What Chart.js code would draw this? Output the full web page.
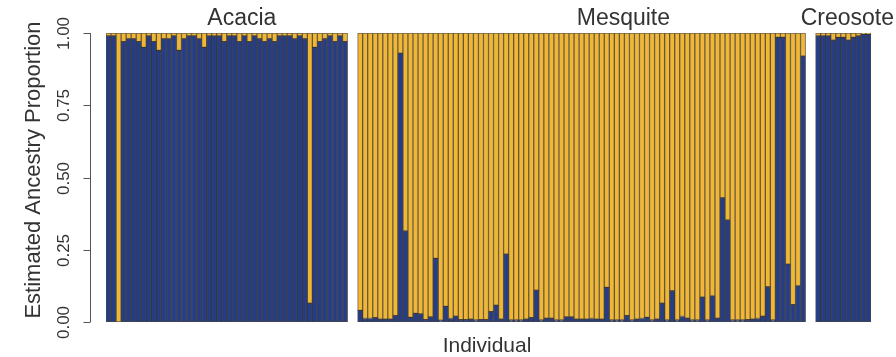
<!DOCTYPE html>
<html>
<head>
<meta charset="utf-8">
<script src="https://cdn.jsdelivr.net/npm/chart.js@4/dist/chart.umd.min.js"></script>
<style>
  html, body { margin: 0; padding: 0; background: #fff; }
  #wrap { width: 896px; height: 357px; }
</style>
</head>
<body>
<div id="wrap"><canvas id="chartAncestry" width="896" height="357"></canvas></div>
<script>
// estimated ancestry (blue cluster) per individual
var acacia = [
  0.99, 0.99, 0.00, 0.97, 0.98, 0.98, 0.97, 0.95, 0.99, 0.97,
  0.94, 0.98, 0.98, 0.99, 0.94, 0.98, 0.99, 0.99, 0.98, 0.95,
  0.99, 0.99, 0.99, 0.97, 0.99, 0.99, 0.97, 0.99, 0.97, 0.99,
  0.98, 0.97, 0.98, 0.97, 0.99, 0.99, 0.99, 0.98, 0.99, 0.98,
  0.065, 0.95, 0.97, 0.98, 0.99, 0.97, 0.99, 0.97
];
var mesquite = [
  0.04, 0.012, 0.012, 0.015, 0.01, 0.01, 0.01, 0.022, 0.93, 0.315,
  0.016, 0.03, 0.028, 0.008, 0.018, 0.22, 0.006, 0.054, 0.012, 0.02,
  0.008, 0.008, 0.01, 0.007, 0.008, 0.008, 0.036, 0.058, 0.01, 0.235,
  0.007, 0.007, 0.007, 0.01, 0.015, 0.11, 0.007, 0.013, 0.013, 0.007,
  0.007, 0.018, 0.018, 0.01, 0.01, 0.01, 0.012, 0.01, 0.01, 0.12,
  0.007, 0.007, 0.007, 0.022, 0.007, 0.01, 0.012, 0.016, 0.007, 0.01,
  0.065, 0.007, 0.108, 0.007, 0.019, 0.013, 0.007, 0.007, 0.086, 0.007,
  0.09, 0.013, 0.43, 0.353, 0.007, 0.007, 0.007, 0.008, 0.01, 0.012,
  0.02, 0.122, 0.007, 0.985, 0.985, 0.2, 0.06, 0.125, 0.92
];
var creosote = [0.99, 0.99, 0.99, 0.975, 0.985, 0.985, 0.975, 0.985, 0.99, 0.995, 0.995];

var groupNames = ['Acacia', 'Mesquite', 'Creosote'];
var yTicks = [0, 0.25, 0.5, 0.75, 1];
var yTickLabels = ['0.00', '0.25', '0.50', '0.75', '1.00'];

var blue = '#243d86';
var yellow = '#efb733';
var gapSlots = 2;
// where each group's title sits, in category slots
var titleSlots = [26.5, 102.3, 146.8];

var labels = [];
var blueData = [];
var groups = [acacia, mesquite, creosote];
groups.forEach(function (g, gi) {
    if (gi > 0) {
        for (var k = 0; k < gapSlots; k++) { labels.push(''); blueData.push(null); }
    }
    g.forEach(function (v, i) { labels.push(groupNames[gi] + ' ' + (i + 1)); blueData.push(v); });
});
var yellowData = blueData.map(function (v) { return v === null ? null : 1 - v; });

var decor = {
    id: 'decor',
    afterDraw: function (chart) {
        var ctx = chart.ctx;
        var xs = chart.scales.x, ys = chart.scales.y;
        var area = chart.chartArea;
        ctx.save();
        var font = '"Liberation Sans", Arial, Helvetica, sans-serif';

        // R style y axis
        var ax = 90.5;
        ctx.strokeStyle = '#555';
        ctx.lineWidth = 1;
        ctx.beginPath();
        ctx.moveTo(ax, ys.getPixelForValue(0));
        ctx.lineTo(ax, ys.getPixelForValue(1));
        ctx.stroke();
        ctx.fillStyle = '#333';
        ctx.font = '17px ' + font;
        ctx.textAlign = 'center';
        ctx.textBaseline = 'middle';
        yTicks.forEach(function (t, i) {
            var py = Math.round(ys.getPixelForValue(t)) + 0.5;
            ctx.beginPath();
            ctx.moveTo(ax - 7, py);
            ctx.lineTo(ax, py);
            ctx.stroke();
            ctx.save();
            ctx.translate(64, py);
            ctx.rotate(-Math.PI / 2);
            ctx.fillText(yTickLabels[i], 0, 0);
            ctx.restore();
        });

        // axis titles
        ctx.font = '22px ' + font;
        ctx.save();
        ctx.translate(34, 170);
        ctx.rotate(-Math.PI / 2);
        ctx.fillText('Estimated Ancestry Proportion', 0, 0);
        ctx.restore();
        ctx.font = '21px ' + font;
        ctx.fillText('Individual', 487, 346);

        // group titles
        ctx.font = '23px ' + font;
        ctx.textBaseline = 'alphabetic';
        groupNames.forEach(function (name, i) {
            ctx.fillText(name, xs.getPixelForValue(titleSlots[i]), 25);
        });
        ctx.restore();
    }
};

var ctx = document.getElementById('chartAncestry').getContext('2d');
var ancestryChart = new Chart(ctx, {
    type: 'bar',
    data: {
        labels: labels,
        datasets: [{
            label: 'Cluster 1',
            data: blueData,
            backgroundColor: blue,
            borderColor: 'rgba(25, 25, 30, 0.8)',
            borderWidth: 1,
            borderSkipped: false
        }, {
            label: 'Cluster 2',
            data: yellowData,
            backgroundColor: yellow,
            borderColor: 'rgba(70, 50, 20, 0.75)',
            borderWidth: 1,
            borderSkipped: false
        }]
    },
    options: {
        responsive: false,
        animation: false,
        devicePixelRatio: 1,
        layout: { padding: { left: 106, right: 25, top: 33, bottom: 35 } },
        datasets: { bar: { barPercentage: 1, categoryPercentage: 1 } },
        plugins: { legend: { display: false }, tooltip: { enabled: false } },
        scales: {
            x: { stacked: true, display: false },
            y: { stacked: true, display: false, min: 0, max: 1 }
        }
    },
    plugins: [decor]
});
</script>
</body>
</html>
